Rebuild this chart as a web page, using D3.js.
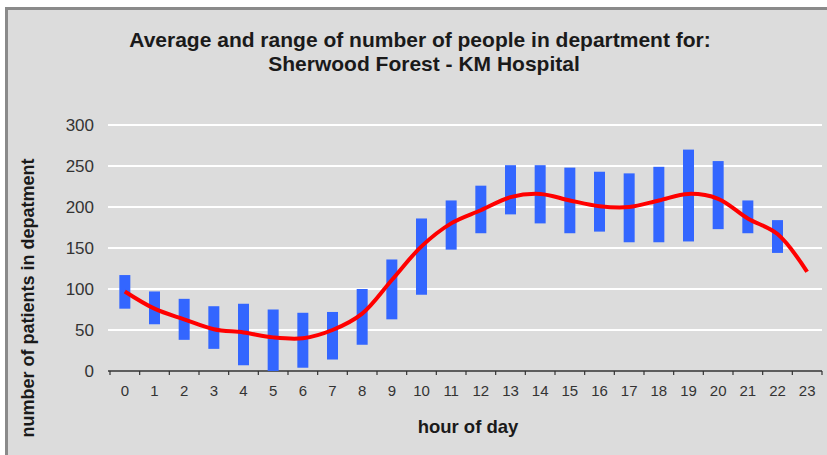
<!DOCTYPE html>
<html>
<head>
<meta charset="utf-8">
<script src="https://cdn.jsdelivr.net/npm/d3@7"></script>
<style>
  body { margin: 0; background: #fff; }
  svg { display: block; font-family: Arial, "Liberation Sans", sans-serif; }
</style>
</head>
<body>
<div id="chart"></div>
<script>
// hours of the day
let hours = [0, 1, 2, 3, 4, 5, 6, 7, 8, 9, 10, 11, 12, 13, 14, 15, 16, 17, 18, 19, 20, 21, 22, 23];

// range of patients per hour (no range shown for 23)
let rangeMin = [76, 57, 38, 27, 7, 0, 4, 14, 32, 63, 93, 148, 168, 191, 180, 168, 170, 157, 157, 158, 173, 168, 144, null];
let rangeMax = [117, 97, 88, 79, 82, 75, 71, 72, 100, 136, 186, 208, 226, 251, 251, 248, 243, 241, 249, 270, 256, 208, 184, null];

// average patients per hour
let average = [97, 76, 63, 51, 47, 41, 40, 50, 70, 111, 152, 180, 196, 212, 216, 208, 201, 200, 208, 216, 210, 186, 167, 121];

let yTicks = [0, 50, 100, 150, 200, 250, 300];

let w = 827;
let h = 455;

let svg = d3.select("#chart")
    .append("svg")
    .attr("width", w)
    .attr("height", h);

// chart area background with the grey frame
svg.append("rect")
    .attr("x", 6.5)
    .attr("y", 8.5)
    .attr("width", w + 10)
    .attr("height", h + 10)
    .attr("fill", "#dcdcdc")
    .attr("stroke", "#8a8a8a")
    .attr("stroke-width", 3);

let x = d3.scaleBand()
    .domain(hours)
    .range([110, 822])
    .padding(0);

let y = d3.scaleLinear()
    .domain([0, 300])
    .range([371, 125]);

// gridlines
svg.selectAll(".grid")
    .data(yTicks.filter((d) => d > 0))
    .enter()
    .append("line")
    .attr("class", "grid")
    .attr("x1", 108)
    .attr("x2", 822)
    .attr("y1", (d) => y(d))
    .attr("y2", (d) => y(d))
    .attr("stroke", "#ffffff")
    .attr("stroke-width", 2);

// y axis labels only
let yAxis = svg.append("g")
    .attr("transform", "translate(108,0)")
    .call(d3.axisLeft(y).tickValues(yTicks).tickSize(0).tickPadding(14));
yAxis.select(".domain").remove();
yAxis.selectAll("text")
    .attr("font-size", 17)
    .attr("fill", "#333")
    .attr("font-family", "Arial, 'Liberation Sans', sans-serif");

// x axis line with ticks at category boundaries
svg.append("line")
    .attr("x1", 108)
    .attr("x2", 822)
    .attr("y1", y(0))
    .attr("y2", y(0))
    .attr("stroke", "#333")
    .attr("stroke-width", 1.5);

svg.selectAll(".xtick")
    .data(hours.concat([24]))
    .enter()
    .append("line")
    .attr("class", "xtick")
    .attr("x1", (d) => d < 24 ? x(d) : x(23) + x.bandwidth())
    .attr("x2", (d) => d < 24 ? x(d) : x(23) + x.bandwidth())
    .attr("y1", y(0))
    .attr("y2", y(0) + 4)
    .attr("stroke", "#333")
    .attr("stroke-width", 1.2);

svg.selectAll(".xlabel")
    .data(hours)
    .enter()
    .append("text")
    .attr("class", "xlabel")
    .attr("x", (d) => x(d) + x.bandwidth() / 2)
    .attr("y", 396)
    .attr("text-anchor", "middle")
    .attr("font-size", 15)
    .attr("fill", "#333")
    .text((d) => d);

// range bars
let ranges = hours.map((d, i) => ({ hour: d, lo: rangeMin[i], hi: rangeMax[i] }))
    .filter((d) => d.lo !== null);

let barW = 11;
svg.selectAll(".range")
    .data(ranges)
    .enter()
    .append("rect")
    .attr("class", "range")
    .attr("x", (d) => x(d.hour) + x.bandwidth() / 2 - barW / 2)
    .attr("y", (d) => y(d.hi))
    .attr("width", barW)
    .attr("height", (d) => y(d.lo) - y(d.hi))
    .attr("fill", "#3366ff");

// average line
let line = d3.line()
    .x((d, i) => x(hours[i]) + x.bandwidth() / 2)
    .y((d) => y(d))
    .curve(d3.curveCatmullRom);

svg.append("path")
    .datum(average)
    .attr("d", line)
    .attr("fill", "none")
    .attr("stroke", "#ff0000")
    .attr("stroke-width", 4)
    .attr("stroke-linejoin", "round");

// titles
svg.append("text")
    .attr("x", 420)
    .attr("y", 47)
    .attr("text-anchor", "middle")
    .attr("font-size", 21)
    .attr("font-weight", "bold")
    .attr("fill", "#1a1a1a")
    .text("Average and range of number of people in department for:");

svg.append("text")
    .attr("x", 424)
    .attr("y", 71)
    .attr("text-anchor", "middle")
    .attr("font-size", 21)
    .attr("font-weight", "bold")
    .attr("fill", "#1a1a1a")
    .text("Sherwood Forest - KM Hospital");

svg.append("text")
    .attr("x", 468)
    .attr("y", 433)
    .attr("text-anchor", "middle")
    .attr("font-size", 18.5)
    .attr("font-weight", "bold")
    .attr("fill", "#1a1a1a")
    .text("hour of day");

svg.append("text")
    .attr("transform", "translate(34,298) rotate(-90)")
    .attr("text-anchor", "middle")
    .attr("font-size", 18)
    .attr("font-weight", "bold")
    .attr("fill", "#1a1a1a")
    .text("number of patients in depatment");
</script>
</body>
</html>
